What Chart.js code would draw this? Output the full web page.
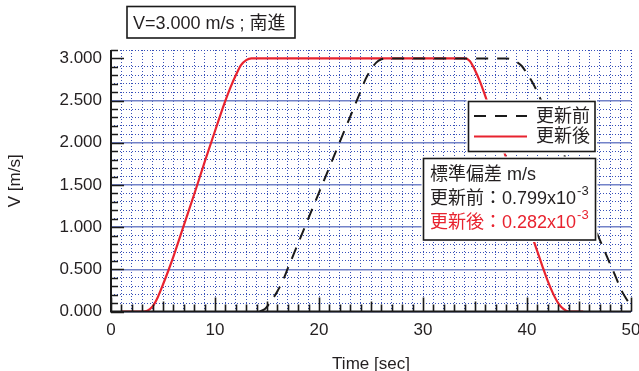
<!DOCTYPE html>
<html>
<head>
<meta charset="utf-8">
<script src="https://cdn.jsdelivr.net/npm/chart.js@4.4.0/dist/chart.umd.min.js"></script>
<style>
    html, body { margin: 0; padding: 0; background: #fff; overflow: hidden; }
    #wrap { width: 639px; height: 371px; position: relative; }
</style>
</head>
<body>
<div id="wrap"><canvas id="speedChart"></canvas></div>
<script>
// Datos
const chartTitle = 'V=3.000 m/s ; 南進';
const seriesNames = ['更新前', '更新後'];
const xTickLabels = [0, 10, 20, 30, 40, 50];

const timeBefore = [14.3, 14.8, 15.2, 15.6, 16, 16.5, 17, 18, 19, 20, 21, 22, 23, 24, 24.5, 25, 25.5, 26, 26.5,
    38, 38.5, 39, 39.5, 40, 40.5, 41, 42, 43, 44, 45, 46, 47, 48, 48.5, 49, 49.5, 50];
const speedBefore = [0, 0.03, 0.09, 0.16, 0.24, 0.36, 0.51, 0.81, 1.11, 1.41, 1.71, 2.01, 2.31, 2.61, 2.76, 2.87, 2.95, 2.99, 3.0,
    3.0, 2.99, 2.96, 2.91, 2.82, 2.72, 2.6, 2.31, 2.02, 1.73, 1.43, 1.14, 0.85, 0.56, 0.42, 0.27, 0.16, 0.07];

const timeAfter = [1, 2, 3, 3.5, 4, 4.5, 5, 5.5, 6, 7, 8, 9, 10, 11, 11.5, 12, 12.5, 13, 13.5,
    34, 34.5, 35, 35.5, 36, 37, 38, 39, 40, 40.5, 41, 41.5, 42, 42.5, 43, 43.5, 44, 45.4];
const speedAfter = [0, 0, 0, 0.01, 0.06, 0.17, 0.32, 0.48, 0.65, 1.02, 1.39, 1.77, 2.14, 2.5, 2.66, 2.8, 2.92, 2.98, 3.0,
    3.0, 2.97, 2.86, 2.72, 2.55, 2.19, 1.82, 1.45, 1.08, 0.89, 0.71, 0.53, 0.36, 0.215, 0.1, 0.03, 0, 0];

const statsHeader = '標準偏差 m/s';
const statsValues = ['0.799', '0.282'];
const statsExponent = '-3';

const FONT = "'Liberation Sans', Arial, 'Noto Sans CJK JP', sans-serif";
const TEXT = '#231f20';
const RED = '#e8232f';
const DOT_BLUE = 'rgb(55,80,185)';
const SOLID_BLUE = '#7282c8';

function isHalf(v) {
    return Math.abs(v * 2 - Math.round(v * 2)) < 1e-6;
}

// Ejes, marcas hacia dentro y cuadros de texto
const framePlugin = {
    id: 'frame',
    afterDraw: function (chart) {
        const ctx = chart.ctx;
        const area = chart.chartArea;
        const xs = chart.scales.x;
        const ys = chart.scales.y;
        ctx.save();
        ctx.strokeStyle = '#1a1a1a';
        ctx.lineWidth = 2;
        ctx.beginPath();
        ctx.moveTo(area.left, area.top);
        ctx.lineTo(area.left, area.bottom);
        ctx.lineTo(area.right, area.bottom);
        ctx.stroke();

        ctx.lineWidth = 1.6;
        ctx.beginPath();
        ys.ticks.forEach(function (t) {
            const py = Math.round(ys.getPixelForValue(t.value)) + 0.5;
            const len = isHalf(t.value) ? 13 : 7;
            ctx.moveTo(area.left, py);
            ctx.lineTo(area.left + len, py);
        });
        xs.ticks.forEach(function (t) {
            const px = Math.round(xs.getPixelForValue(t.value)) + 0.5;
            let len = 7;
            if (t.value % 10 === 0) len = 14;
            else if (t.value % 5 === 0) len = 10;
            ctx.moveTo(px, area.bottom);
            ctx.lineTo(px, area.bottom - len);
        });
        ctx.stroke();

        function box(x1, y1, x2, y2) {
            ctx.fillStyle = '#fff';
            ctx.fillRect(x1 - 2, y1 - 2, x2 - x1 + 4, y2 - y1 + 4);
            ctx.strokeStyle = '#1a1a1a';
            ctx.lineWidth = 1.6;
            ctx.setLineDash([]);
            ctx.strokeRect(x1, y1, x2 - x1, y2 - y1);
        }

        // titulo
        box(127, 6.5, 295, 38);
        ctx.fillStyle = TEXT;
        ctx.font = '18px ' + FONT;
        ctx.textBaseline = 'alphabetic';
        ctx.textAlign = 'left';
        ctx.fillText(chartTitle, 133, 28.5);

        // leyenda
        box(468.5, 101.5, 595, 151.5);
        const rows = [116, 136.5];
        chart.data.datasets.forEach(function (ds, i) {
            ctx.strokeStyle = ds.borderColor;
            ctx.lineWidth = 2;
            ctx.setLineDash(ds.borderDash || []);
            ctx.beginPath();
            ctx.moveTo(474, rows[i]);
            ctx.lineTo(527, rows[i]);
            ctx.stroke();
            ctx.setLineDash([]);
            ctx.fillStyle = TEXT;
            ctx.textBaseline = 'middle';
            ctx.font = '18px ' + FONT;
            ctx.fillText(ds.label, 536, rows[i] + 1);
        });

        // desviacion estandar
        box(423.5, 158.5, 595.5, 240);
        ctx.textBaseline = 'middle';
        ctx.font = '18px ' + FONT;
        ctx.fillStyle = TEXT;
        ctx.fillText(statsHeader, 430, 175.5);
        const lineY = [199, 223.5];
        const colors = [TEXT, RED];
        statsValues.forEach(function (v, i) {
            ctx.font = '18px ' + FONT;
            ctx.fillStyle = colors[i];
            const s = seriesNames[i] + '：' + v + 'x10';
            ctx.fillText(s, 430, lineY[i]);
            const w = ctx.measureText(s).width;
            ctx.font = '13px ' + FONT;
            ctx.fillText(statsExponent, 430 + w + 1, lineY[i] - 8);
        });
        ctx.restore();
    }
};

var ctx = document.getElementById('speedChart').getContext('2d');
var speedChart = new Chart(ctx, {
    type: 'line',
    data: {
        datasets: [{
            label: seriesNames[0],
            data: timeBefore.map(function (t, i) { return { x: t, y: speedBefore[i] }; }),
            borderColor: '#1a1a1a',
            borderWidth: 2,
            borderDash: [12, 9],
            pointRadius: 0,
            fill: false,
            cubicInterpolationMode: 'monotone'
        }, {
            label: seriesNames[1],
            data: timeAfter.map(function (t, i) { return { x: t, y: speedAfter[i] }; }),
            borderColor: RED,
            borderWidth: 2.2,
            pointRadius: 0,
            fill: false,
            cubicInterpolationMode: 'monotone'
        }]
    },
    options: {
        responsive: true,
        maintainAspectRatio: false,
        animation: false,
        devicePixelRatio: 1,
        layout: { padding: { top: 50, right: 8, bottom: 0, left: 0 } },
        plugins: {
            legend: { display: false },
            tooltip: { enabled: false }
        },
        scales: {
            x: {
                type: 'linear',
                min: 0,
                max: 50,
                ticks: {
                    stepSize: 1,
                    autoSkip: false,
                    maxRotation: 0,
                    padding: 9,
                    color: TEXT,
                    font: { size: 17, family: FONT },
                    callback: function (v) { return xTickLabels.indexOf(v) >= 0 ? String(v) : ''; }
                },
                grid: { color: DOT_BLUE, lineWidth: 1, drawTicks: false },
                border: { display: false, dash: [1, 2] },
                title: {
                    display: true,
                    text: 'Time [sec]',
                    color: TEXT,
                    font: { size: 17, family: FONT, lineHeight: 0.8 },
                    padding: { top: 0, bottom: 0 }
                },
                afterFit: function (scale) {
                    scale.height = 59.5;
                    scale.paddingLeft = 0;
                    scale.paddingRight = 0;
                }
            },
            y: {
                min: 0,
                max: 3.1,
                ticks: {
                    stepSize: 0.1,
                    autoSkip: false,
                    padding: 9,
                    color: TEXT,
                    font: { size: 17, family: FONT },
                    callback: function (v) { return isHalf(v) ? v.toFixed(3) : ''; }
                },
                grid: {
                    color: function (c) { return isHalf(c.tick.value) ? 'rgba(0,0,0,0)' : DOT_BLUE; },
                    lineWidth: 1,
                    drawTicks: false
                },
                border: { display: false, dash: [1, 2] },
                title: {
                    display: true,
                    text: 'V [m/s]',
                    color: TEXT,
                    font: { size: 17, family: FONT },
                    padding: { top: 5, bottom: 0 }
                },
                afterFit: function (scale) {
                    scale.width = 111;
                    scale.paddingTop = 0;
                    scale.paddingBottom = 0;
                }
            },
            y2: {
                position: 'left',
                min: 0,
                max: 3.1,
                ticks: { display: false, stepSize: 0.5 },
                grid: {
                    color: function (c) { return isHalf(c.tick.value) ? SOLID_BLUE : 'rgba(0,0,0,0)'; },
                    lineWidth: 1.5,
                    drawTicks: false
                },
                border: { display: false },
                afterFit: function (scale) {
                    scale.width = 0;
                }
            }
        }
    },
    plugins: [framePlugin]
});
</script>
</body>
</html>
